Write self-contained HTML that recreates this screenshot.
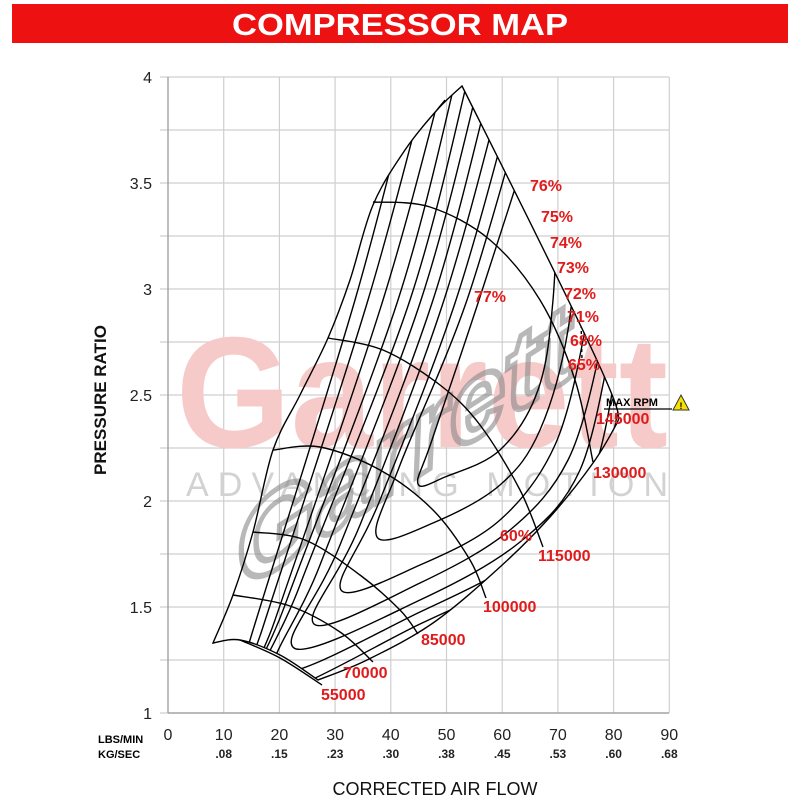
<!DOCTYPE html>
<html><head><meta charset="utf-8"><style>
html,body{margin:0;padding:0;background:#fff;}
svg{display:block;}
text{font-family:"Liberation Sans",Arial,sans-serif;}
.lab{fill:#e01b1b;font-weight:bold;font-size:16px;}
.tick{fill:#222;font-size:16px;}
</style></head><body>
<svg id="s" width="800" height="800" viewBox="0 0 800 800" xmlns="http://www.w3.org/2000/svg">
<rect x="12" y="4" width="776" height="39" fill="#ee1111"/>
<text x="400" y="35" text-anchor="middle" fill="#fff" font-weight="bold" font-size="31" textLength="336" lengthAdjust="spacingAndGlyphs">COMPRESSOR MAP</text>
<g id="grid" stroke="#cfcfcf" stroke-width="1.2"></g>
<text x="176" y="447" fill="#f7caca" font-size="158" font-weight="bold" textLength="492" lengthAdjust="spacingAndGlyphs">Garrett</text>
<text x="186" y="496" fill="#d2d2d2" font-size="34" textLength="482" lengthAdjust="spacing">ADVANCING MOTION</text>
<g transform="translate(405,455) rotate(-33) skewX(-25)" opacity="0.6">
<text x="-200" y="25" font-size="95" font-weight="bold" font-style="italic" fill="none" stroke="#8a8a8a" stroke-width="5" textLength="400" lengthAdjust="spacingAndGlyphs">Garrett</text>
</g>
<defs><clipPath id="cp"><path id="cpp"/></clipPath></defs>
<g id="curves" fill="none" stroke="#000" stroke-width="1.4"></g>
<g id="cl" clip-path="url(#cp)" fill="none" stroke="#000" stroke-width="1.4"></g>
<g class="tick" text-anchor="end">
<text x="152" y="83">4</text><text x="152" y="189">3.5</text><text x="152" y="295">3</text>
<text x="152" y="401">2.5</text><text x="152" y="507">2</text><text x="152" y="613">1.5</text><text x="152" y="719">1</text>
</g>
<g id="xt" class="tick" text-anchor="middle"></g>
<text x="98" y="743" font-size="11" font-weight="bold">LBS/MIN</text>
<text x="98" y="758" font-size="11" font-weight="bold">KG/SEC</text>
<text x="435" y="795" text-anchor="middle" font-size="18" fill="#111">CORRECTED AIR FLOW</text>
<text transform="translate(106,400) rotate(-90)" text-anchor="middle" font-size="17" font-weight="bold" fill="#111">PRESSURE RATIO</text>
<g class="lab">
<text x="530" y="191">76%</text><text x="541" y="222">75%</text><text x="550" y="248">74%</text>
<text x="557" y="273">73%</text><text x="564" y="299">72%</text><text x="567" y="322">71%</text>
<text x="570" y="346">68%</text><text x="568" y="370">65%</text><text x="474" y="302">77%</text>
<text x="500" y="541">60%</text>
<text x="321" y="700">55000</text><text x="343" y="678">70000</text><text x="421" y="645">85000</text>
<text x="483" y="612">100000</text><text x="538" y="561">115000</text><text x="593" y="478">130000</text>
<text x="596" y="424">145000</text>
</g>
<text x="606" y="406" font-size="11" font-weight="bold" fill="#000">MAX RPM</text>
<line x1="604" y1="409" x2="672" y2="409" stroke="#000" stroke-width="1.2"/>
<polygon points="681,395 689,410 673,410" fill="#f5e000" stroke="#333" stroke-width="1"/>
<text x="681" y="409" font-size="9" font-weight="bold" text-anchor="middle">!</text>
</svg>
<script>
var NS="http://www.w3.org/2000/svg";
function el(p,t,a){var e=document.createElementNS(NS,t);for(var k in a)e.setAttribute(k,a[k]);p.appendChild(e);return e;}
var g=document.getElementById('grid');
for(var k=0;k<=9;k++){var x=168+55.7*k;el(g,'line',{x1:x,y1:77,x2:x,y2:713});}
for(var k=0;k<=12;k++){var y=77+53*k;el(g,'line',{x1:160,y1:y,x2:669,y2:y});}
el(g,'line',{x1:168,y1:77,x2:168,y2:713,stroke:'#999'});
el(g,'line',{x1:168,y1:713,x2:669,y2:713,stroke:'#999'});
var xt=document.getElementById('xt');
var kg=['','.08','.15','.23','.30','.38','.45','.53','.60','.68'];
for(var k=0;k<=9;k++){var x=168+55.7*k;var t=el(xt,'text',{x:x,y:740});t.textContent=String(k*10);
 var t2=el(xt,'text',{x:x,y:758,'font-size':12,'font-weight':'bold'});t2.textContent=kg[k];}
function cr(P,start){var d=start?('M'+P[0][0]+','+P[0][1]):'';
 for(var i=0;i<P.length-1;i++){var p0=P[i-1]||P[i],p1=P[i],p2=P[i+1],p3=P[i+2]||P[i+1];
 var c1=[p1[0]+(p2[0]-p0[0])/6,p1[1]+(p2[1]-p0[1])/6],c2=[p2[0]-(p3[0]-p1[0])/6,p2[1]-(p3[1]-p1[1])/6];
 d+='C'+c1[0].toFixed(1)+','+c1[1].toFixed(1)+' '+c2[0].toFixed(1)+','+c2[1].toFixed(1)+' '+p2[0]+','+p2[1];}return d;}
var surge=[[213,643],[233,595],[253,532],[273,450],[300,395],[328,338],[350,280],[373,205],[405,150],[437,110],[462,86]];
var top=[[462,86],[488,93],[502,100],[525,118],[552,150],[569,182],[584,217],[594,253],[607,290],[615,330],[620,360],[625,405]];
var choke=[[625,405],[617,423],[593,463],[550,517],[500,567],[433,623],[367,660],[318,680]];
var bot=[[318,680],[280,655],[240,640],[213,643]];
var region=cr(surge,1)+cr(top,0)+cr(choke,0)+cr(bot,0)+'Z';
document.getElementById('cpp').setAttribute('d',region);
var cv=document.getElementById('curves');
el(cv,'path',{d:region});
el(cv,'path',{d:cr([[437,110],[445,100]],1)});
var speeds=[
[[240,640],[280,658],[322,685]],
[[233,595],[290,606],[340,632],[373,662]],
[[253,532],[305,540],[360,575],[400,610],[418,634]],
[[273,450],[320,447],[380,470],[433,510],[470,560],[486,598]],
[[328,338],[383,350],[440,385],[480,425],[520,490],[543,547]],
[[373,202],[430,207],[490,240],[540,300],[575,380],[593,462]]];
speeds.forEach(function(s){el(cv,'path',{d:cr(s,1)});});
var cl=document.getElementById('cl');
var C=[
[[545,95],[479,300],[432,440],[418,484],[445,477],[500,450],[538,390],[553,300],[560,140]],
[[530,85],[467,300],[400,465],[377,537],[433,523],[500,485],[540,430],[568,330],[580,190]],
[[518,80],[456,300],[380,500],[341,590],[420,565],[500,520],[555,445],[585,330],[594,240]],
[[506,75],[444,300],[360,525],[314,624],[420,583],[510,530],[568,460],[600,350],[607,280]],
[[494,70],[433,300],[340,545],[294,648],[420,600],[520,542],[580,470],[612,340]],
[[482,70],[421,300],[320,565],[278,672],[420,612],[525,555],[590,480],[618,360]],
[[470,70],[410,300],[300,585],[262,695],[420,624],[530,567],[596,490],[624,380]],
[[458,70],[398,300],[285,605],[250,710],[420,636],[540,575],[600,500],[628,400]],
[[446,70],[383,300],[275,620],[240,720],[430,645],[550,585],[610,510],[632,420]],
[[430,70],[368,300],[262,630],[230,730],[440,652]],
[[415,70],[355,300],[250,640],[222,740]]
];
C.forEach(function(c){el(cl,'path',{d:cr(c,1)});});
var dash=el(cl,'g',{'stroke-dasharray':'3,3'});
[[590,190,596,300],[578,205,582,360],[596,260,604,370]].forEach(function(a){el(dash,'line',{x1:a[0],y1:a[1],x2:a[2],y2:a[3]});});
</script>
</body></html>
